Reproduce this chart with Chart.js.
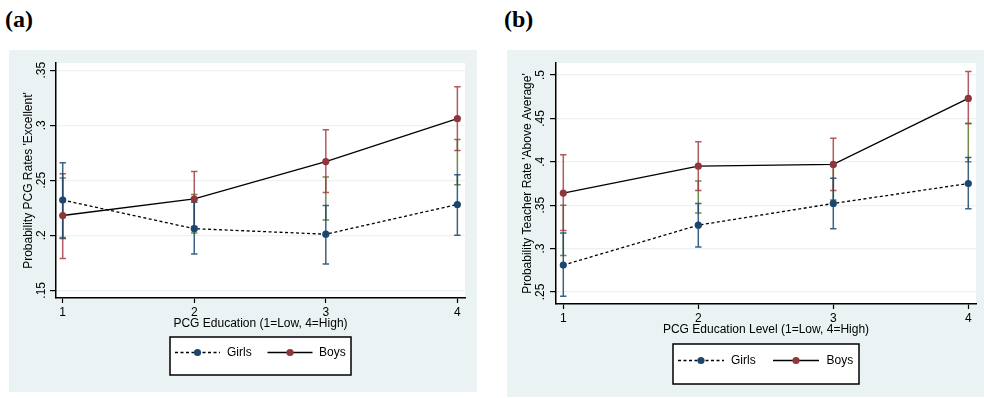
<!DOCTYPE html>
<html><head><meta charset="utf-8">
<script src="https://cdn.jsdelivr.net/npm/chart.js@4/dist/chart.umd.min.js"></script>
<style>
html,body{margin:0;padding:0;background:#fff;width:984px;height:398px;overflow:hidden;}
.lbl{position:absolute;font-family:"Liberation Serif","Times New Roman",serif;font-weight:bold;font-size:24px;line-height:24px;color:#000;}
.panel{position:absolute;}
</style></head><body>
<div class="lbl" style="left:5px;top:7px">(a)</div>
<div class="lbl" style="left:504px;top:7px">(b)</div>
<div class="panel" style="left:9px;top:50px;width:468px;height:342px"><canvas id="ca" width="468" height="342"></canvas></div>
<div class="panel" style="left:507px;top:50px;width:477px;height:347px"><canvas id="cb" width="477" height="347"></canvas></div>
<script>
// ---- shared categories ----
const categories = [1, 2, 3, 4];
const xTickLabels = ['1', '2', '3', '4'];
const seriesNames = ['Girls', 'Boys'];

// ---- Panel (a) ----
const titleA = "(a)";
const xTitleA = "PCG Education (1=Low, 4=High)";
const yTitleA = "Probability PCG Rates 'Excellent'";
const yTicksA = [0.15, 0.2, 0.25, 0.3, 0.35];
const yTickLabelsA = ['.15', '.2', '.25', '.3', '.35'];
const girlsA     = [0.232, 0.206, 0.201, 0.228];
const girlsLowA  = [0.197, 0.183, 0.174, 0.200];
const girlsHighA = [0.266, 0.230, 0.227, 0.255];
const boysA      = [0.218, 0.233, 0.267, 0.306];
const boysLowA   = [0.179, 0.208, 0.239, 0.277];
const boysHighA  = [0.256, 0.258, 0.296, 0.335];
const pooledLowA  = [0.198, 0.202, 0.214, 0.246];
const pooledHighA = [0.252, 0.237, 0.253, 0.287];

// ---- Panel (b) ----
const titleB = "(b)";
const xTitleB = "PCG Education Level (1=Low, 4=High)";
const yTitleB = "Probability Teacher Rate 'Above Average'";
const yTicksB = [0.25, 0.3, 0.35, 0.4, 0.45, 0.5];
const yTickLabelsB = ['.25', '.3', '.35', '.4', '.45', '.5'];
const girlsB     = [0.281, 0.327, 0.352, 0.375];
const girlsLowB  = [0.245, 0.302, 0.323, 0.346];
const girlsHighB = [0.318, 0.352, 0.381, 0.405];
const boysB      = [0.364, 0.395, 0.397, 0.473];
const boysLowB   = [0.321, 0.367, 0.367, 0.444];
const boysHighB  = [0.408, 0.423, 0.427, 0.504];
const pooledLowB  = [0.292, 0.341, 0.356, 0.400];
const pooledHighB = [0.350, 0.378, 0.395, 0.444];

// ---- styling ----
const FONT = "'Liberation Sans', Arial, Helvetica, sans-serif";
const NAVY = '#1a476f', MAROON = '#90353b';
const CI_NAVY = 'rgba(26,71,111,0.85)', CI_MAROON = 'rgba(160,55,62,0.82)', CI_GREEN = 'rgba(85,117,47,0.85)';
const BG = '#eaf2f3';

const bgPlugin = {
  id: 'stataBg',
  beforeDraw(chart) {
    const {ctx, chartArea: ca} = chart;
    ctx.save();
    ctx.fillStyle = BG;
    ctx.fillRect(0, 0, chart.width, chart.height);
    ctx.fillStyle = '#fff';
    ctx.fillRect(ca.left, ca.top, ca.right - ca.left, ca.bottom - ca.top);
    ctx.restore();
  }
};

const ciPlugin = {
  id: 'ciBars',
  beforeDatasetsDraw(chart, args, opts) {
    const {ctx, scales: {x, y}} = chart;
    ctx.save();
    ctx.lineWidth = opts.lineWidth;
    opts.bars.forEach(b => {
      ctx.strokeStyle = b.color;
      categories.forEach((c, i) => {
        const px = x.getPixelForValue(c);
        const y1 = y.getPixelForValue(b.low[i]);
        const y2 = y.getPixelForValue(b.high[i]);
        ctx.beginPath();
        ctx.moveTo(px, y1); ctx.lineTo(px, y2);
        ctx.moveTo(px - opts.cap, y1); ctx.lineTo(px + opts.cap, y1);
        ctx.moveTo(px - opts.cap, y2); ctx.lineTo(px + opts.cap, y2);
        ctx.stroke();
      });
    });
    ctx.restore();
  }
};

const legendPlugin = {
  id: 'stataLegend',
  afterDraw(chart, args, o) {
    const {ctx, chartArea: ca} = chart;
    const bx = (ca.left + ca.right) / 2 - o.width / 2;
    const by = ca.bottom + o.offsetY;
    ctx.save();
    ctx.fillStyle = '#fff';
    ctx.fillRect(bx, by, o.width, o.height);
    ctx.strokeStyle = '#000';
    ctx.lineWidth = 1.5;
    ctx.strokeRect(bx, by, o.width, o.height);
    const ly = by + o.lineY;
    chart.data.datasets.forEach((ds, i) => {
      const it = o.items[i];
      ctx.setLineDash(ds.borderDash || []);
      ctx.strokeStyle = ds.borderColor;
      ctx.lineWidth = ds.borderWidth;
      ctx.beginPath();
      ctx.moveTo(bx + it.x0, ly); ctx.lineTo(bx + it.x0 + o.lineLen, ly);
      ctx.stroke();
      ctx.setLineDash([]);
      ctx.fillStyle = ds.pointBackgroundColor;
      ctx.beginPath();
      ctx.arc(bx + it.x0 + o.lineLen / 2, ly, ds.pointRadius, 0, Math.PI * 2);
      ctx.fill();
      ctx.fillStyle = '#000';
      ctx.font = '12px ' + FONT;
      ctx.textBaseline = 'middle';
      ctx.textAlign = 'left';
      ctx.fillText(ds.label, bx + it.tx, ly + 0.5);
    });
    ctx.restore();
  }
};

function pts(vals) { return categories.map((c, i) => ({x: c, y: vals[i]})); }

function makeChart(id, cfg) {
  const tickMap = {};
  cfg.yTicks.forEach((v, i) => tickMap[v.toFixed(4)] = cfg.yTickLabels[i]);
  return new Chart(document.getElementById(id), {
    type: 'line',
    data: {
      datasets: [
        {label: seriesNames[0], data: pts(cfg.girls), borderColor: '#000', borderWidth: 1.3, borderDash: [3, 2.5],
         pointRadius: 3.6, pointBackgroundColor: NAVY, pointBorderWidth: 0, pointBorderColor: NAVY, tension: 0, fill: false},
        {label: seriesNames[1], data: pts(cfg.boys), borderColor: '#000', borderWidth: 1.3,
         pointRadius: 3.6, pointBackgroundColor: MAROON, pointBorderWidth: 0, pointBorderColor: MAROON, tension: 0, fill: false}
      ]
    },
    options: {
      responsive: false, animation: false, devicePixelRatio: 1,
      layout: {padding: cfg.padding},
      plugins: {
        legend: {display: false}, tooltip: {enabled: false},
        ciBars: {lineWidth: 1.5, cap: 3.2, bars: [
          {color: CI_GREEN, low: cfg.pooledLow, high: cfg.pooledHigh},
          {color: CI_MAROON, low: cfg.boysLow, high: cfg.boysHigh},
          {color: CI_NAVY, low: cfg.girlsLow, high: cfg.girlsHigh}
        ]},
        stataLegend: cfg.legend
      },
      scales: {
        x: {
          type: 'linear', min: cfg.xMin, max: cfg.xMax,
          afterBuildTicks: s => { s.ticks = categories.map(v => ({value: v})); },
          afterFit: s => { s.height = 40; },
          grid: {display: true, drawOnChartArea: false, drawTicks: true, tickLength: 5, tickColor: '#000', tickWidth: 1.2},
          border: {display: true, color: '#000', width: 1.5},
          ticks: {color: '#000', font: {family: FONT, size: 12}, padding: 2, maxRotation: 0, minRotation: 0,
                  callback: (v) => xTickLabels[categories.indexOf(v)]},
          title: {display: true, text: cfg.xTitle, color: '#000', font: {family: FONT, size: 12}, padding: {top: 0, bottom: 7}}
        },
        y: {
          type: 'linear', min: cfg.yMin, max: cfg.yMax,
          afterBuildTicks: s => { s.ticks = cfg.yTicks.map(v => ({value: v})); },
          afterFit: s => { s.width = cfg.yWidth; },
          grid: {color: BG, lineWidth: 1.2, drawTicks: true, tickLength: 6, tickColor: '#000', tickWidth: 1.2},
          border: {display: true, color: '#000', width: 1.5},
          ticks: {color: '#000', font: {family: FONT, size: 12}, padding: cfg.yTickPad, minRotation: 90, maxRotation: 90,
                  crossAlign: 'center', callback: (v) => tickMap[Number(v).toFixed(4)]},
          title: {display: true, text: cfg.yTitle, color: '#000', font: {family: FONT, size: 12}, padding: {top: cfg.yTitlePad, bottom: 0}}
        }
      }
    },
    plugins: [bgPlugin, ciPlugin, legendPlugin]
  });
}

makeChart('ca', {
  girls: girlsA, girlsLow: girlsLowA, girlsHigh: girlsHighA,
  boys: boysA, boysLow: boysLowA, boysHigh: boysHighA,
  pooledLow: pooledLowA, pooledHigh: pooledHighA,
  yTicks: yTicksA, yTickLabels: yTickLabelsA, xTitle: xTitleA, yTitle: yTitleA,
  xMin: 0.949, xMax: 4.058, yMin: 0.143, yMax: 0.3566,
  padding: {left: 0, top: 13, right: 12, bottom: 54},
  yWidth: 47, yTickPad: 0, yTitlePad: 12,
  legend: {width: 181, height: 38, offsetY: 39, lineY: 15.5, lineLen: 45,
           items: [{x0: 5, tx: 57}, {x0: 97.5, tx: 149}]}
});

makeChart('cb', {
  girls: girlsB, girlsLow: girlsLowB, girlsHigh: girlsHighB,
  boys: boysB, boysLow: boysLowB, boysHigh: boysHighB,
  pooledLow: pooledLowB, pooledHigh: pooledHighB,
  yTicks: yTicksB, yTickLabels: yTickLabelsB, xTitle: xTitleB, yTitle: yTitleB,
  xMin: 0.946, xMax: 4.057, yMin: 0.2362, yMax: 0.5138,
  padding: {left: 0, top: 13, right: 8, bottom: 53},
  yWidth: 49, yTickPad: 1, yTitlePad: 13,
  legend: {width: 186, height: 40, offsetY: 40, lineY: 16.5, lineLen: 46,
           items: [{x0: 5, tx: 58}, {x0: 100, tx: 153.5}]}
});
</script>
</body></html>
